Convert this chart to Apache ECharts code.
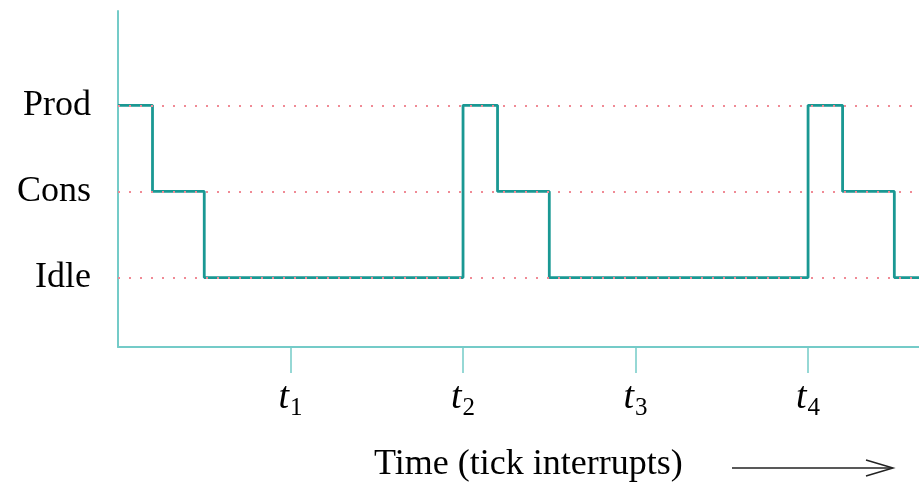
<!DOCTYPE html>
<html>
<head>
<meta charset="utf-8">
<script src="https://cdn.jsdelivr.net/npm/echarts@6/dist/echarts.min.js"></script>
<style>
  html, body { margin: 0; padding: 0; background: #fff; }
  #chart { width: 919px; height: 486px; }
</style>
</head>
<body>
<div id="chart"></div>
<script>
// state levels on the y axis (1 = Idle, 2 = Cons, 3 = Prod)
const levelNames = ['Idle', 'Cons', 'Prod'];
const levelValues = [1, 2, 3];

// step trace: time (in tick units) where each state starts
const stepTimes = [0, 0.2, 0.5, 2, 2.2, 2.5, 4, 4.2, 4.5, 4.643];
const stepStates = [3, 2, 1, 3, 2, 1, 3, 2, 1, 1];

// tick interrupts on the x axis
const tickValues = [1, 2, 3, 4];
const tickSubs = ['1', '2', '3', '4'];

const axisColor = '#74cbc8';
const traceColor = '#1a9893';
const serif = 'Liberation Serif';

let chart = echarts.init(document.getElementById('chart'));

let option = {
  animation: false,
  backgroundColor: '#fff',
  grid: {
    left: 118,
    right: 0,
    top: 11,
    bottom: 139,
    outerBoundsMode: 'none'
  },
  xAxis: {
    type: 'value',
    min: 0,
    max: 4.643,
    axisLine: {onZero: false, lineStyle: {color: axisColor, width: 2}},
    axisTick: {
      show: true,
      customValues: tickValues,
      length: 26,
      lineStyle: {color: axisColor, width: 1.5}
    },
    splitLine: {show: false},
    axisLabel: {
      customValues: tickValues,
      margin: 34,
      formatter: function (v) {
        let i = tickValues.indexOf(v);
        return '{t|t}{s|' + tickSubs[i] + '}';
      },
      rich: {
        t: {fontFamily: serif, fontStyle: 'italic', fontSize: 38, color: '#000', lineHeight: 34},
        s: {fontFamily: serif, fontSize: 25, color: '#000', lineHeight: 34, padding: [20, 0, 0, 1]}
      }
    }
  },
  yAxis: {
    type: 'value',
    min: 0.194,
    max: 4.095,
    axisLine: {show: true, onZero: false, lineStyle: {color: axisColor, width: 2}},
    axisTick: {show: false},
    splitLine: {show: false},
    axisLabel: {
      customValues: levelValues,
      margin: 27,
      fontFamily: serif,
      fontSize: 36,
      color: '#000',
      formatter: function (v) {
        return levelNames[levelValues.indexOf(v)];
      }
    }
  },
  series: [
    {
      name: 'state',
      type: 'line',
      step: 'end',
      showSymbol: false,
      z: 2,
      lineStyle: {color: traceColor, width: 2.8},
      data: stepTimes.map((t, i) => [t, stepStates[i]])
    },
    {
      name: 'levels',
      type: 'line',
      z: 5,
      data: [],
      markLine: {
        silent: true,
        symbol: ['none', 'none'],
        label: {show: false},
        lineStyle: {color: '#f08a95', type: [2, 9], width: 1.8},
        data: levelValues.map(v => ({yAxis: v}))
      }
    }
  ],
  graphic: [
    {
      type: 'text',
      left: 374,
      top: 447,
      style: {
        text: 'Time (tick interrupts)',
        fontFamily: serif,
        fontSize: 36,
        fill: '#000'
      }
    },
    {
      type: 'line',
      shape: {x1: 732, y1: 468, x2: 892, y2: 468},
      style: {stroke: '#222', lineWidth: 1.5}
    },
    {
      type: 'polyline',
      shape: {points: [[866, 460], [893, 468], [866, 476]]},
      style: {stroke: '#222', lineWidth: 1.5, fill: null}
    }
  ]
};

chart.setOption(option);
</script>
</body>
</html>
